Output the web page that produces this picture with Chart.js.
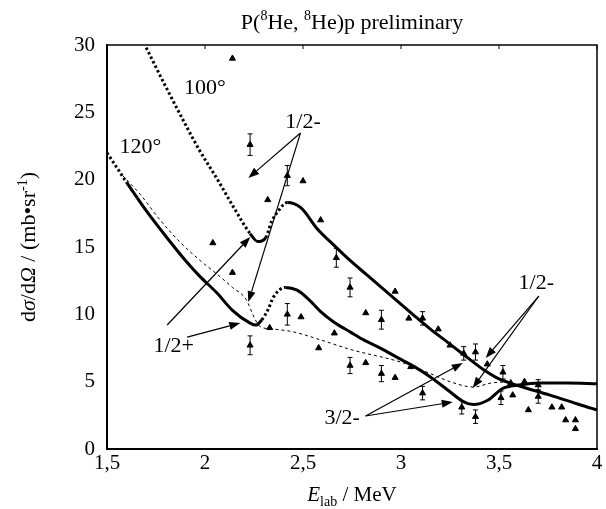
<!DOCTYPE html>
<html>
<head>
<meta charset="utf-8">
<script src="https://cdn.jsdelivr.net/npm/chart.js@4.4.0/dist/chart.umd.min.js"></script>
<style>
  html, body { margin: 0; padding: 0; background: #fff; }
</style>
</head>
<body>
<canvas id="xsChart" width="606" height="509"></canvas>
<script>
// calculated curves, 100 deg and 120 deg
const upperX = [1.70, 1.80, 1.90, 1.975, 2.06, 2.14, 2.23, 2.27, 2.31, 2.34, 2.37, 2.42, 2.49, 2.57, 2.66, 2.74, 2.82, 2.90, 2.98, 3.06, 3.15, 3.24, 3.32, 3.42, 3.50, 3.60, 3.76, 3.92, 4.00];
const upperY = [29.8, 26.9, 24.1, 22.1, 20.1, 18.1, 16.0, 15.4, 15.7, 16.9, 17.6, 18.3, 17.9, 16.4, 15.1, 14.0, 13.0, 12.0, 11.0, 10.0, 8.9, 7.9, 7.0, 5.9, 5.2, 4.7, 4.0, 3.25, 2.9];
const upperDotted = [[1.70, 2.23], [2.31, 2.41]];

const lowerX = [1.50, 1.55, 1.60, 1.70, 1.80, 1.90, 1.975, 2.06, 2.14, 2.23, 2.26, 2.29, 2.32, 2.35, 2.41, 2.47, 2.53, 2.59, 2.66, 2.74, 2.81, 2.90, 2.98, 3.07, 3.15, 3.25, 3.32, 3.37, 3.44, 3.52, 3.60, 3.71, 3.85, 4.00];
const lowerY = [22.0, 20.9, 19.8, 17.7, 15.8, 14.0, 12.8, 11.6, 10.3, 9.35, 9.2, 9.6, 10.3, 11.3, 12.0, 11.8, 11.1, 10.2, 9.4, 8.7, 8.1, 7.45, 6.8, 6.1, 5.35, 4.25, 3.5, 3.3, 3.6, 4.5, 4.75, 4.9, 4.9, 4.85];
const lowerDotted = [[1.50, 1.58], [2.29, 2.40]];

const thinX = [1.58, 1.67, 1.76, 1.87, 1.975, 2.06, 2.14, 2.21, 2.25, 2.28, 2.35, 2.45, 2.59, 2.74, 3.01, 3.15, 3.25, 3.37, 3.46, 3.56];
const thinY = [20.3, 18.9, 17.2, 15.4, 14.0, 13.0, 12.0, 11.1, 9.8, 9.1, 8.9, 8.7, 8.1, 7.4, 6.4, 5.6, 5.0, 4.6, 4.9, 5.0];

// measured points
const expX = [2.14, 2.23, 2.42, 2.50, 2.32, 2.59, 2.04, 2.14, 2.67, 2.74, 2.97, 2.82, 2.90, 3.04, 3.11, 3.19, 3.25, 3.32, 3.38, 3.44, 3.52, 3.63, 3.70, 2.42, 2.49, 2.33, 2.23, 2.66, 2.58, 2.74, 2.82, 2.90, 2.97, 3.05, 3.11, 3.31, 3.38, 3.51, 3.57, 3.65, 3.70, 3.77, 3.82, 3.84, 3.89, 3.89, 3.56];
const expY = [29.0, 22.6, 20.3, 19.9, 18.5, 17.0, 15.3, 13.1, 14.2, 12.0, 11.7, 10.1, 9.6, 9.7, 9.7, 8.9, 7.7, 7.1, 7.2, 6.3, 5.7, 5.0, 4.75, 10.0, 9.8, 9.0, 7.7, 8.6, 7.5, 6.2, 6.4, 5.6, 5.3, 6.1, 4.15, 3.1, 2.4, 3.8, 4.0, 2.9, 3.9, 3.1, 3.1, 2.15, 2.15, 1.5, 4.9];
const expErr = [0, 0.8, 0.75, 0, 0, 0, 0, 0, 0.7, 0.7, 0, 0, 0.7, 0, 0.5, 0, 0, 0.5, 0.6, 0, 0.5, 0, 0.4, 0.8, 0, 0, 0.7, 0, 0, 0.6, 0, 0.6, 0, 0, 0.5, 0.5, 0.5, 0.5, 0, 0, 0.5, 0, 0, 0, 0, 0, 0];

const xTicks = [1.5, 2, 2.5, 3, 3.5, 4];
const yTicks = [0, 5, 10, 15, 20, 25, 30];

// annotations, in data units
const noteText = ['100°', '120°', '1/2-', '1/2+', '1/2-', '3/2-'];
const notePos = [[2.00, 26.8], [1.67, 22.4], [2.50, 24.3], [1.84, 7.65], [3.69, 12.3], [2.70, 2.3]];
const arrowFrom = [[2.487, 23.46], [2.487, 23.46], [1.807, 9.21], [1.909, 8.31], [3.703, 11.36], [3.703, 11.36], [2.819, 2.45], [2.819, 2.45]];
const arrowTo = [[2.221, 20.12], [2.221, 10.91], [2.231, 15.74], [2.180, 9.35], [3.432, 6.76], [3.366, 4.53], [3.315, 6.38], [3.264, 3.49]];

const SERIF = '"Liberation Serif", "DejaVu Serif", serif';

function toPts(xs, ys) {
    return xs.map((x, i) => ({ x: x, y: ys[i] }));
}

function dashIn(ranges) {
    return function(ctx) {
        const m = (ctx.p0.parsed.x + ctx.p1.parsed.x) / 2;
        return ranges.some(r => m >= r[0] && m <= r[1]) ? [2.5, 2.5] : undefined;
    };
}

// draws text made of runs (for super/subscripts), centred on x
function drawRuns(c, runs, x, y) {
    let w = 0;
    runs.forEach(r => {
        c.font = (r.i ? 'italic ' : '') + r.s + 'px ' + SERIF;
        r.w = c.measureText(r.t).width;
        w += r.w;
    });
    let cx = x - w / 2;
    c.textAlign = 'left';
    c.textBaseline = 'alphabetic';
    runs.forEach(r => {
        c.font = (r.i ? 'italic ' : '') + r.s + 'px ' + SERIF;
        c.fillText(r.t, cx, y + (r.dy || 0));
        cx += r.w;
    });
}

const frame = {
    id: 'frame',
    afterDraw(chart) {
        const c = chart.ctx, a = chart.chartArea;
        const xs = chart.scales.x;
        c.save();
        c.strokeStyle = '#000';
        c.lineWidth = 1.5;
        c.beginPath();
        c.moveTo(a.left, a.top);
        c.lineTo(a.right, a.top);
        c.lineTo(a.right, a.bottom);
        c.stroke();
        c.lineWidth = 1;
        xTicks.forEach(v => {
            const px = xs.getPixelForValue(v);
            c.beginPath();
            c.moveTo(px, a.top);
            c.lineTo(px, a.top + 4);
            c.stroke();
        });
        c.fillStyle = '#000';
        drawRuns(c, [
            { t: 'P(', s: 22 }, { t: '8', s: 14, dy: -9 }, { t: 'He, ', s: 22 },
            { t: '8', s: 14, dy: -9 }, { t: 'He)p preliminary', s: 22 }
        ], (a.left + a.right) / 2, 29);
        drawRuns(c, [
            { t: 'E', s: 21, i: true }, { t: 'lab', s: 14, dy: 5 }, { t: ' / MeV', s: 21 }
        ], (a.left + a.right) / 2, 501);
        c.translate(35, (a.top + a.bottom) / 2);
        c.rotate(-Math.PI / 2);
        drawRuns(c, [
            { t: 'd', s: 22 }, { t: 'σ', s: 22, i: true }, { t: '/d', s: 22 }, { t: 'Ω', s: 22, i: true },
            { t: ' / (mb•sr', s: 22 }, { t: '-1', s: 14, dy: -8 }, { t: ')', s: 22 }
        ], 0, 0);
        c.restore();
    }
};

const errorBars = {
    id: 'errorBars',
    afterDatasetsDraw(chart) {
        const c = chart.ctx, xs = chart.scales.x, ys = chart.scales.y;
        c.save();
        c.strokeStyle = '#000';
        c.lineWidth = 1;
        expX.forEach((x, i) => {
            if (!expErr[i]) return;
            const px = xs.getPixelForValue(x);
            const p1 = ys.getPixelForValue(expY[i] - expErr[i]);
            const p2 = ys.getPixelForValue(expY[i] + expErr[i]);
            c.beginPath();
            c.moveTo(px, p1); c.lineTo(px, p2);
            c.moveTo(px - 2.5, p1); c.lineTo(px + 2.5, p1);
            c.moveTo(px - 2.5, p2); c.lineTo(px + 2.5, p2);
            c.stroke();
        });
        c.restore();
    }
};

const notes = {
    id: 'notes',
    afterDraw(chart) {
        const c = chart.ctx, xs = chart.scales.x, ys = chart.scales.y;
        c.save();
        c.fillStyle = '#000';
        c.strokeStyle = '#000';
        c.font = '22px ' + SERIF;
        c.textAlign = 'center';
        c.textBaseline = 'middle';
        noteText.forEach((t, i) => {
            c.fillText(t, xs.getPixelForValue(notePos[i][0]), ys.getPixelForValue(notePos[i][1]));
        });
        c.lineWidth = 1.2;
        arrowFrom.forEach((f, i) => {
            const x1 = xs.getPixelForValue(f[0]), y1 = ys.getPixelForValue(f[1]);
            const x2 = xs.getPixelForValue(arrowTo[i][0]), y2 = ys.getPixelForValue(arrowTo[i][1]);
            const ang = Math.atan2(y2 - y1, x2 - x1);
            const len = 11, half = 4;
            const bx = x2 - len * Math.cos(ang), by = y2 - len * Math.sin(ang);
            c.beginPath();
            c.moveTo(x1, y1); c.lineTo(bx, by);
            c.stroke();
            c.beginPath();
            c.moveTo(x2, y2);
            c.lineTo(bx + half * Math.sin(ang), by - half * Math.cos(ang));
            c.lineTo(bx - half * Math.sin(ang), by + half * Math.cos(ang));
            c.closePath();
            c.fill();
        });
        c.restore();
    }
};

const ctx = document.getElementById('xsChart');
new Chart(ctx, {
    type: 'line',
    data: {
        datasets: [{
            label: '100°',
            data: toPts(upperX, upperY),
            borderColor: '#000',
            borderWidth: 3,
            pointRadius: 0,
            fill: false,
            cubicInterpolationMode: 'monotone',
            segment: { borderDash: dashIn(upperDotted) }
        }, {
            label: '120°',
            data: toPts(lowerX, lowerY),
            borderColor: '#000',
            borderWidth: 3,
            pointRadius: 0,
            fill: false,
            cubicInterpolationMode: 'monotone',
            segment: { borderDash: dashIn(lowerDotted) }
        }, {
            label: 'thin',
            data: toPts(thinX, thinY),
            borderColor: '#000',
            borderWidth: 1,
            borderDash: [3, 3],
            pointRadius: 0,
            fill: false,
            cubicInterpolationMode: 'monotone'
        }, {
            label: 'exp',
            data: toPts(expX, expY),
            showLine: false,
            pointStyle: 'triangle',
            pointRadius: 3.5,
            backgroundColor: '#000',
            borderColor: '#000',
            borderWidth: 1
        }]
    },
    options: {
        responsive: false,
        animation: false,
        layout: { padding: { top: 45, right: 9, left: 0, bottom: 0 } },
        plugins: {
            legend: { display: false },
            tooltip: { enabled: false }
        },
        scales: {
            x: {
                type: 'linear',
                min: 1.5,
                max: 4,
                afterBuildTicks: s => { s.ticks = xTicks.map(v => ({ value: v })); },
                afterFit: s => { s.height = 60; },
                ticks: {
                    callback: v => String(v).replace('.', ','),
                    font: { family: SERIF, size: 21 },
                    color: '#000',
                    padding: 2,
                    maxRotation: 0,
                    autoSkip: false
                },
                grid: { display: false, drawTicks: false },
                border: { display: true, color: '#000', width: 2 }
            },
            y: {
                min: 0,
                max: 30,
                afterBuildTicks: s => { s.ticks = yTicks.map(v => ({ value: v })); },
                afterFit: s => { s.width = 107; },
                ticks: {
                    font: { family: SERIF, size: 21 },
                    color: '#000',
                    padding: 12
                },
                grid: { display: false, drawTicks: false },
                border: { display: true, color: '#000', width: 2 }
            }
        }
    },
    plugins: [frame, errorBars, notes]
});
</script>
</body>
</html>
